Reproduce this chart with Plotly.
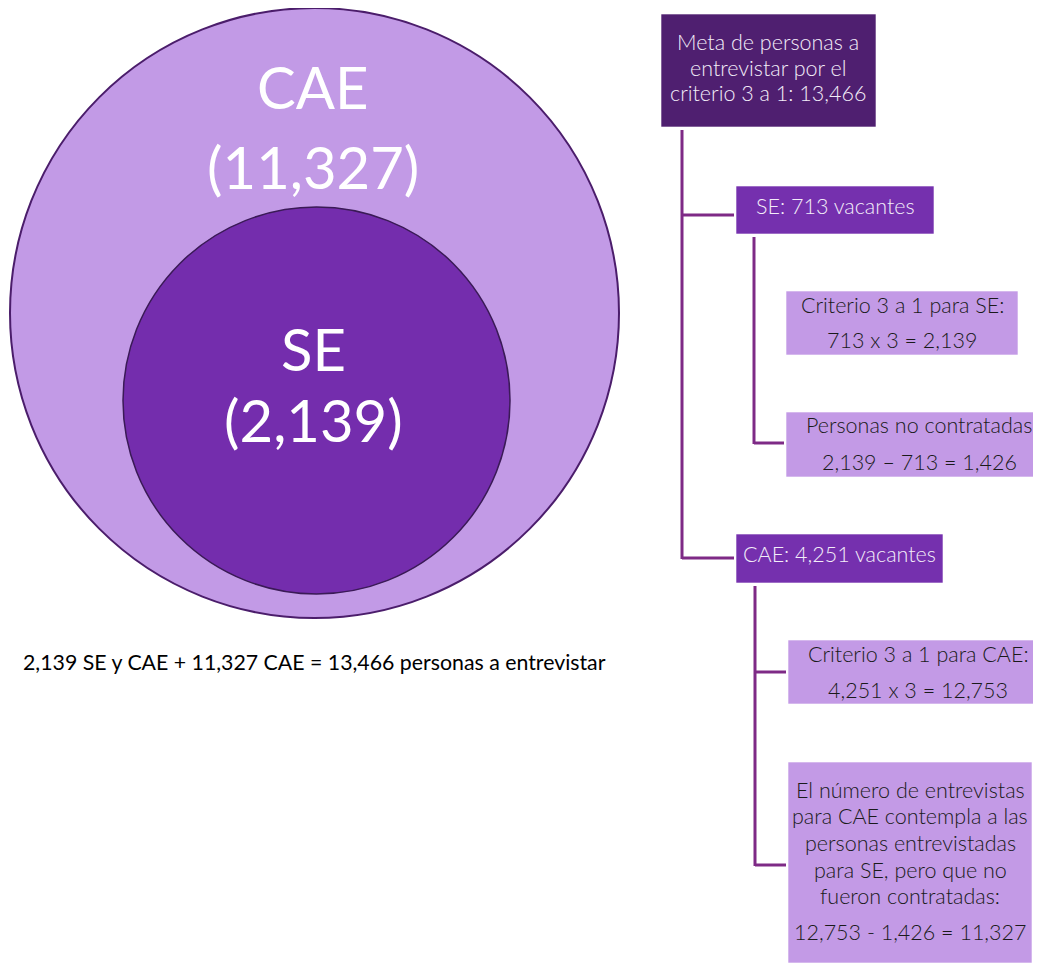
import plotly.graph_objects as go

# ---------------- data ----------------
circle_labels = ["CAE", "SE"]
circle_values = [11327, 2139]
vacantes_labels = ["SE", "CAE"]
vacantes_values = [713, 4251]
factor = 3
meta_total = 13466
no_contratadas = 1426
cae_bruto = 12753

def fmt(v):
    return f"{v:,}"

top_lines = ["Meta de personas a", "entrevistar por el", f"criterio 3 a 1: {fmt(meta_total)}"]
se_head = f"{vacantes_labels[0]}: {fmt(vacantes_values[0])} vacantes"
cae_head = f"{vacantes_labels[1]}: {fmt(vacantes_values[1])} vacantes"
se_crit = ["Criterio 3 a 1 para SE:", f"{fmt(vacantes_values[0])} x {factor} = {fmt(circle_values[1])}"]
se_nocont = ["Personas no contratadas", f"{fmt(circle_values[1])} \u2013 {fmt(vacantes_values[0])} = {fmt(no_contratadas)}"]
cae_crit = ["Criterio 3 a 1 para CAE:", f"{fmt(vacantes_values[1])} x {factor} = {fmt(cae_bruto)}"]
cae_note = ["El número de entrevistas", "para CAE contempla a las", "personas entrevistadas",
            "para SE, pero que no", "fueron contratadas:",
            f"{fmt(cae_bruto)} - {fmt(no_contratadas)} = {fmt(circle_values[0])}"]
summary = (f"{fmt(circle_values[1])} SE y CAE + {fmt(circle_values[0])} CAE = "
           f"{fmt(meta_total)} personas a entrevistar")

# ---------------- styles ----------------
W, H = 1041, 963
OFF = 8  # page body margin
FONT = "Lato"
C_OUTER = "#C29AE6"
C_INNER = "#742DAD"
C_TOP = "#4F1F70"
C_MID = "#7530AE"
C_LIGHT = "#C39AE6"
C_LINE = "#7E2A86"
TXT_LIGHT = "#F3EDF9"
TXT_DARK = "#1A1A1A"
BOX_FS = 21.5
BOX_W = 300

fig = go.Figure()
shapes = []
ann = []

# circles
shapes.append(dict(type="circle", xref="x", yref="y", x0=10, y0=8, x1=619, y1=618,
                   fillcolor=C_OUTER, line=dict(color="#4B1D6B", width=2), layer="below"))
shapes.append(dict(type="circle", xref="x", yref="y", x0=123, y0=207, x1=510, y1=594,
                   fillcolor=C_INNER, line=dict(color="#3A1A56", width=1.5), layer="below"))

def text(x, y, s, size, color, weight=400):
    ann.append(dict(x=x, y=y, xref="x", yref="y", text=s, showarrow=False,
                    xanchor="center", yanchor="middle",
                    font=dict(family=FONT, size=size, color=color, weight=weight)))

text(313, 86, circle_labels[0], 58, "white")
text(313, 166, f"({fmt(circle_values[0])})", 58, "white")
text(313, 348, circle_labels[1], 58, "white")
text(313, 419, f"({fmt(circle_values[1])})", 58, "white")

text(314, 662, summary, 21.3, "#000000")

# boxes
def box(x0, y0, x1, y1, color):
    shapes.append(dict(type="rect", xref="x", yref="y", x0=x0, y0=y0, x1=x1, y1=y1,
                       fillcolor=color, line=dict(color="rgba(255,255,255,0.6)", width=1),
                       layer="below"))

box(661, 14, 876, 127, C_TOP)
for i, s in enumerate(top_lines):
    text(768, 42 + i * 25.5, s, BOX_FS, TXT_LIGHT, BOX_W)

box(736, 186, 934, 234, C_MID)
text(835, 206, se_head, BOX_FS, TXT_LIGHT, BOX_W)

box(786, 291, 1018, 355, C_LIGHT)
text(902, 305, se_crit[0], BOX_FS, TXT_DARK, BOX_W)
text(902, 340, se_crit[1], BOX_FS, TXT_DARK, BOX_W)

box(786, 412, 1041, 477, C_LIGHT)
text(919, 425, se_nocont[0], BOX_FS, TXT_DARK, BOX_W)
text(919, 462, se_nocont[1], BOX_FS, TXT_DARK, BOX_W)

box(736, 534, 943, 583, C_MID)
text(839, 554, cae_head, BOX_FS, TXT_LIGHT, BOX_W)

box(788, 640, 1041, 704, C_LIGHT)
text(918, 654, cae_crit[0], BOX_FS, TXT_DARK, BOX_W)
text(918, 690, cae_crit[1], BOX_FS, TXT_DARK, BOX_W)

box(788, 762, 1032, 963, C_LIGHT)
ys = [790, 816, 843, 870, 896, 932]
for s, y in zip(cae_note, ys):
    text(910, y, s, BOX_FS, TXT_DARK, BOX_W)

# connectors
def seg(x0, y0, x1, y1):
    shapes.append(dict(type="line", xref="x", yref="y", x0=x0, y0=y0, x1=x1, y1=y1,
                       line=dict(color=C_LINE, width=3)))

seg(682, 130, 682, 559)
seg(682, 215, 734, 215)
seg(682, 558, 734, 558)
seg(754, 237, 754, 444)
seg(754, 443, 784, 443)
seg(755, 586, 755, 866)
seg(755, 672, 786, 672)
seg(755, 865, 786, 865)

fig.update_layout(
    width=W - OFF, height=H - OFF, autosize=False,
    margin=dict(l=0, r=0, t=0, b=0),
    paper_bgcolor="white", plot_bgcolor="white",
    xaxis=dict(range=[OFF, W], visible=False, fixedrange=True),
    yaxis=dict(range=[H, OFF], visible=False, fixedrange=True),
    shapes=shapes, annotations=ann, showlegend=False,
)
fig.write_html("out.html", config={"displayModeBar": False})
